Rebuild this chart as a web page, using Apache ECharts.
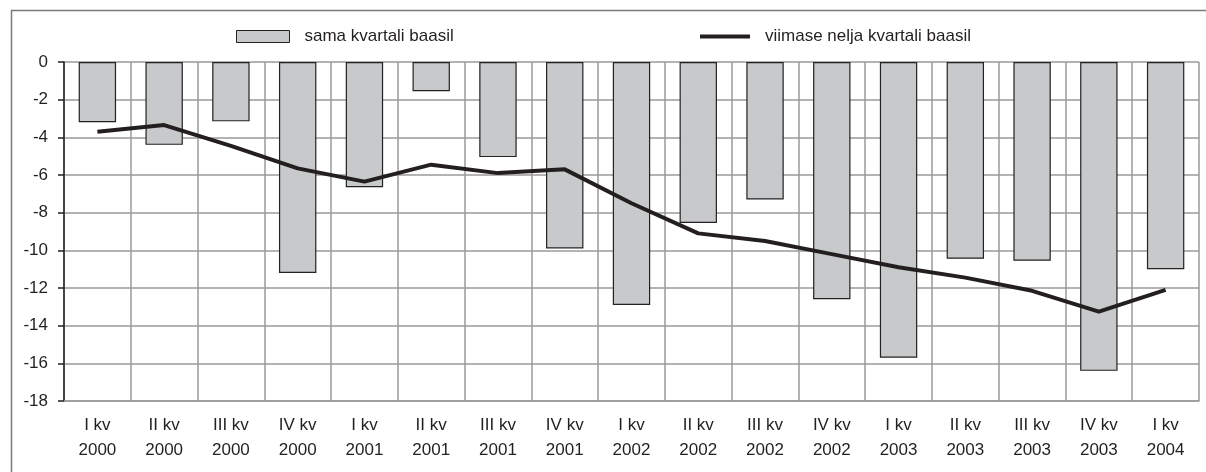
<!DOCTYPE html>
<html lang="et">

<head>
    <meta charset="UTF-8">
    <title>kvartalid</title>
    <script src="https://cdn.jsdelivr.net/npm/echarts@6/dist/echarts.min.js"></script>
</head>

<body style="margin:0;padding:0;background:#fff;">
    <div id="main" style="width:1206px;height:472px;"></div>
    <script>
        // kvartalid
        var quarters = ['I kv\n2000', 'II kv\n2000', 'III kv\n2000', 'IV kv\n2000',
            'I kv\n2001', 'II kv\n2001', 'III kv\n2001', 'IV kv\n2001',
            'I kv\n2002', 'II kv\n2002', 'III kv\n2002', 'IV kv\n2002',
            'I kv\n2003', 'II kv\n2003', 'III kv\n2003', 'IV kv\n2003',
            'I kv\n2004'];
        // sama kvartali baasil
        var sameQuarter = [-3.2, -4.4, -3.15, -11.2, -6.65, -1.55, -5.05, -9.9, -12.9,
            -8.55, -7.3, -12.6, -15.7, -10.45, -10.55, -16.4, -11.0];
        // viimase nelja kvartali baasil
        var lastFour = [-3.7, -3.35, -4.45, -5.65, -6.35, -5.45, -5.9, -5.7, -7.5,
            -9.1, -9.5, -10.2, -10.9, -11.45, -12.15, -13.25, -12.1];

        var txt = '#231f20';
        var myChart = echarts.init(document.getElementById('main'));
        var option = {
            animation: false,
            textStyle: { fontFamily: '"Liberation Sans", Arial, sans-serif' },
            graphic: [{
                type: 'rect',
                shape: { x: 11.5, y: 10.5, width: 1200, height: 470 },
                style: { fill: 'none', stroke: '#7a7a7a', lineWidth: 1.5 },
                silent: true
            }],
            legend: [{
                left: 236,
                top: 28,
                padding: 0,
                itemWidth: 53,
                itemHeight: 12,
                textStyle: { fontSize: 17, color: txt, padding: [0, 0, 0, 10] },
                data: [{
                    name: 'sama kvartali baasil',
                    icon: 'rect',
                    itemStyle: { color: '#c8c9cb', borderColor: '#222', borderWidth: 1 }
                }]
            }, {
                left: 700,
                top: 28,
                padding: 0,
                itemWidth: 50,
                itemHeight: 4,
                textStyle: { fontSize: 17, color: txt, padding: [0, 0, 0, 10] },
                data: [{
                    name: 'viimase nelja kvartali baasil',
                    icon: 'rect',
                    itemStyle: { color: txt, borderWidth: 0 }
                }]
            }],
            grid: {
                left: 64,
                top: 62,
                right: 7,
                bottom: 71,
                containLabel: false
            },
            xAxis: {
                type: 'category',
                data: quarters,
                position: 'bottom',
                axisLine: { onZero: false, lineStyle: { color: '#9a9a9a', width: 1.5 } },
                axisTick: { show: false },
                splitLine: { show: true, lineStyle: { color: '#9a9a9a', width: 1.5 } },
                axisLabel: {
                    interval: 0,
                    margin: 12,
                    fontSize: 17,
                    lineHeight: 25,
                    color: txt
                }
            },
            yAxis: {
                type: 'value',
                min: -18,
                max: 0,
                interval: 2,
                axisLine: { show: true, lineStyle: { color: txt, width: 1.5 } },
                axisTick: { show: true, length: 6, lineStyle: { color: txt, width: 1.5 } },
                splitLine: { lineStyle: { color: '#9a9a9a', width: 1.5 } },
                axisLabel: { margin: 16, fontSize: 17, color: txt }
            },
            series: [{
                name: 'sama kvartali baasil',
                type: 'bar',
                barWidth: '56%',
                itemStyle: { color: '#c8c9cb', borderColor: '#222', borderWidth: 1.2 },
                data: sameQuarter
            }, {
                name: 'viimase nelja kvartali baasil',
                type: 'line',
                symbol: 'none',
                lineStyle: { color: txt, width: 4 },
                data: lastFour
            }]
        };
        myChart.setOption(option);
    </script>
</body>

</html>
